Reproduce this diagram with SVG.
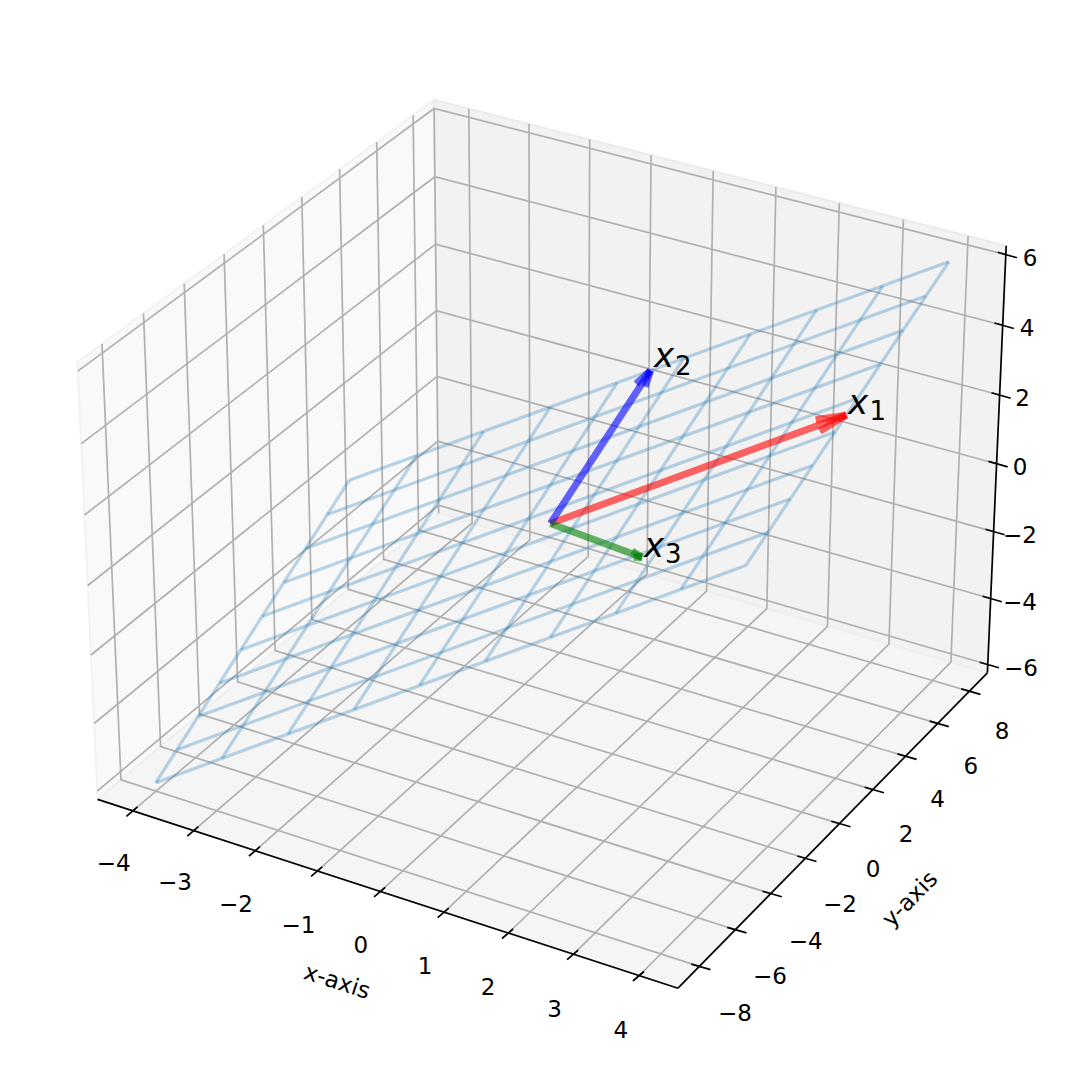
<svg xmlns="http://www.w3.org/2000/svg" width="1085" height="1073" viewBox="0 0 1085 1073">
<style>
.grid{fill:none;stroke:#b0b0b0;stroke-width:1.7}
.axis{fill:none;stroke:#000;stroke-width:1.7}
.tick{stroke:#000;stroke-width:1.7}
.tl{font-family:"DejaVu Sans","Liberation Sans",sans-serif;font-size:23px;fill:#000;text-anchor:middle}
.al{font-family:"DejaVu Sans","Liberation Sans",sans-serif;font-size:23px;fill:#000;text-anchor:middle}
.wf{stroke:#1f77b4;stroke-opacity:0.3;stroke-width:3.2;fill:none}
.q{stroke-width:7;stroke-opacity:0.6;stroke-linecap:butt;fill:none}
.vl{font-family:"DejaVu Sans","Liberation Sans",sans-serif;font-size:34px;font-style:italic;fill:#000}
.vs{font-size:26px;font-style:normal}
</style>
<rect width="1085" height="1073" fill="#fff"/>
<g id="panes">
<path d="M97.6,799.4 L438.6,513.3 L434.0,99.9 L77.4,361.9 Z" fill="#f9f9f9" stroke="#f2f2f2" stroke-width="2"/>
<path d="M438.6,513.3 L987.4,672.8 L1006.2,245.7 L434.0,99.9 Z" fill="#f2f2f2" stroke="#ebebeb" stroke-width="2"/>
<path d="M97.6,799.4 L678.0,988.2 L987.4,672.8 L438.6,513.3 Z" fill="#f5f5f5" stroke="#efefef" stroke-width="2"/>
</g>
<g id="gridlines">
<polyline class="grid" points="132.8,810.9 472.1,523.0 468.8,108.8"/>
<polyline class="grid" points="193.7,830.7 529.8,539.8 529.0,124.1"/>
<polyline class="grid" points="255.3,850.7 588.2,556.7 589.7,139.6"/>
<polyline class="grid" points="317.5,870.9 647.1,573.8 651.1,155.2"/>
<polyline class="grid" points="380.5,891.4 706.6,591.2 713.2,171.0"/>
<polyline class="grid" points="444.1,912.1 766.8,608.6 775.9,187.0"/>
<polyline class="grid" points="508.4,933.0 827.5,626.3 839.3,203.2"/>
<polyline class="grid" points="573.5,954.1 888.9,644.1 903.4,219.5"/>
<polyline class="grid" points="639.3,975.5 950.9,662.1 968.1,236.0"/>
<polyline class="grid" points="699.4,966.4 121.0,779.8 102.0,343.9"/>
<polyline class="grid" points="735.4,929.7 160.6,746.6 143.5,313.4"/>
<polyline class="grid" points="770.7,893.6 199.5,714.0 184.2,283.5"/>
<polyline class="grid" points="805.4,858.3 237.6,681.9 224.1,254.1"/>
<polyline class="grid" points="839.4,823.6 275.1,650.5 263.3,225.3"/>
<polyline class="grid" points="872.8,789.6 311.9,619.6 301.8,197.1"/>
<polyline class="grid" points="905.5,756.2 348.1,589.3 339.6,169.3"/>
<polyline class="grid" points="937.7,723.4 383.6,559.4 376.7,142.1"/>
<polyline class="grid" points="969.3,691.2 418.5,530.1 413.1,115.3"/>
<polyline class="grid" points="97.2,791.1 438.5,505.3 987.8,664.5"/>
<polyline class="grid" points="94.1,723.5 437.8,441.3 990.7,598.5"/>
<polyline class="grid" points="90.9,655.0 437.1,376.4 993.6,531.6"/>
<polyline class="grid" points="87.7,585.5 436.4,310.7 996.6,463.7"/>
<polyline class="grid" points="84.5,515.0 435.6,244.2 999.6,395.0"/>
<polyline class="grid" points="81.2,443.6 434.9,176.8 1002.7,325.3"/>
<polyline class="grid" points="77.8,371.1 434.1,108.5 1005.8,254.6"/>
<line class="grid" x1="438.6" y1="513.3" x2="434.1" y2="108.5"/>
</g>
<g id="x-axis">
<line class="axis" x1="97.6" y1="799.4" x2="678.0" y2="988.2"/>
<path class="tick" d="M126.4,816.4L137.5,806.9 M187.3,836.2L198.4,826.7 M248.9,856.2L260.0,846.7 M311.1,876.4L322.2,866.9 M374.1,896.9L385.2,887.4 M437.7,917.6L448.8,908.1 M502.0,938.5L513.1,929.0 M567.1,959.6L578.2,950.1 M632.9,981.0L644.0,971.5"/>
<text class="tl" x="113.6" y="870.9">−4</text>
<text class="tl" x="175" y="890.4">−3</text>
<text class="tl" x="236" y="912.4">−2</text>
<text class="tl" x="298.5" y="933.4">−1</text>
<text class="tl" x="360.7" y="953.4">0</text>
<text class="tl" x="425" y="974.4">1</text>
<text class="tl" x="488" y="995.4">2</text>
<text class="tl" x="554.5" y="1017.4">3</text>
<text class="tl" x="620.7" y="1038.4">4</text>
<text class="al" transform="translate(337,982) rotate(18)" y="7">x-axis</text>
</g>
<g id="y-axis">
<line class="axis" x1="678.0" y1="988.2" x2="987.4" y2="672.8"/>
<path class="tick" d="M691.3,964.1L710.5,969.6 M727.3,927.4L746.5,932.9 M762.6,891.3L781.8,896.8 M797.3,856.0L816.5,861.5 M831.3,821.3L850.5,826.8 M864.7,787.3L883.9,792.8 M897.4,753.9L916.6,759.4 M929.6,721.1L948.8,726.6 M961.2,688.9L980.4,694.4"/>
<text class="tl" x="735" y="1020.9">−8</text>
<text class="tl" x="770" y="984.2">−6</text>
<text class="tl" x="805.8" y="949.2">−4</text>
<text class="tl" x="840" y="912.4">−2</text>
<text class="tl" x="873" y="877.1">0</text>
<text class="tl" x="906" y="842.4">2</text>
<text class="tl" x="937.5" y="807.4">4</text>
<text class="tl" x="970.8" y="774.2">6</text>
<text class="tl" x="1002" y="739.4">8</text>
<text class="al" transform="translate(911,900) rotate(-45.5)" y="6">y-axis</text>
</g>
<g id="z-axis">
<line class="axis" x1="987.4" y1="672.8" x2="1006.2" y2="245.7"/>
<path class="tick" d="M979.7,662.2L998.9,667.7 M982.6,596.2L1001.8,601.7 M985.5,529.3L1004.7,534.8 M988.5,461.4L1007.7,466.9 M991.5,392.7L1010.7,398.2 M994.6,323.0L1013.8,328.5 M997.7,252.3L1016.9,257.8"/>
<text class="tl" x="1021" y="676.4">−6</text>
<text class="tl" x="1020" y="610.4">−4</text>
<text class="tl" x="1020" y="543.4">−2</text>
<text class="tl" x="1020" y="475.4">0</text>
<text class="tl" x="1022.5" y="406.4">2</text>
<text class="tl" x="1027" y="336.4">4</text>
<text class="tl" x="1030" y="266.4">6</text>
</g>
<g id="wireframe">
<line class="wf" x1="155.8" y1="782.7" x2="349.2" y2="480.3"/>
<line class="wf" x1="221.9" y1="758.4" x2="416.4" y2="455.8"/>
<line class="wf" x1="287.9" y1="734.1" x2="483.5" y2="431.4"/>
<line class="wf" x1="353.8" y1="709.8" x2="550.4" y2="407.0"/>
<line class="wf" x1="419.4" y1="685.6" x2="617.2" y2="382.6"/>
<line class="wf" x1="485.0" y1="661.5" x2="683.8" y2="358.4"/>
<line class="wf" x1="550.4" y1="637.4" x2="750.3" y2="334.1"/>
<line class="wf" x1="615.7" y1="613.4" x2="816.6" y2="309.9"/>
<line class="wf" x1="680.8" y1="589.4" x2="882.8" y2="285.8"/>
<line class="wf" x1="745.8" y1="565.5" x2="948.8" y2="261.8"/>
<line class="wf" x1="155.8" y1="782.7" x2="745.8" y2="565.5"/>
<line class="wf" x1="176.9" y1="749.7" x2="767.9" y2="532.3"/>
<line class="wf" x1="198.1" y1="716.6" x2="790.2" y2="499.0"/>
<line class="wf" x1="219.4" y1="683.2" x2="812.6" y2="465.5"/>
<line class="wf" x1="240.8" y1="649.8" x2="835.0" y2="431.9"/>
<line class="wf" x1="262.3" y1="616.2" x2="857.6" y2="398.2"/>
<line class="wf" x1="283.9" y1="582.4" x2="880.2" y2="364.3"/>
<line class="wf" x1="305.6" y1="548.5" x2="903.0" y2="330.3"/>
<line class="wf" x1="327.3" y1="514.5" x2="925.8" y2="296.1"/>
<line class="wf" x1="349.2" y1="480.3" x2="948.8" y2="261.8"/>
</g>
<g id="vectors">
<g id="vec-x1" stroke="#ff0000">
<line class="q" x1="846.3" y1="415.1" x2="550.4" y2="523.5"/>
<line class="q" x1="846.3" y1="415.1" x2="819.9" y2="431.2"/>
<line class="q" x1="846.3" y1="415.1" x2="815.7" y2="419.8"/>
</g>
<g id="vec-x2" stroke="#0000ff">
<line class="q" x1="650.5" y1="370.5" x2="550.4" y2="523.5"/>
<line class="q" x1="650.5" y1="370.5" x2="645.3" y2="386.8"/>
<line class="q" x1="650.5" y1="370.5" x2="636.1" y2="383.9"/>
</g>
<g id="vec-x3" stroke="#008000">
<line class="q" x1="642.0" y1="557.4" x2="550.4" y2="523.5"/>
<line class="q" x1="642.0" y1="557.4" x2="633.7" y2="557.3"/>
<line class="q" x1="642.0" y1="557.4" x2="632.1" y2="550.9"/>
</g>
</g>
<g id="vector-labels">
<text class="vl" x="848" y="413.5">x<tspan class="vs" x="869.5" y="419.5">1</tspan></text>
<text class="vl" x="654" y="366.7">x<tspan class="vs" x="675" y="375">2</tspan></text>
<text class="vl" x="644" y="556.7">x<tspan class="vs" x="665" y="563.3">3</tspan></text>
</g>
</svg>
